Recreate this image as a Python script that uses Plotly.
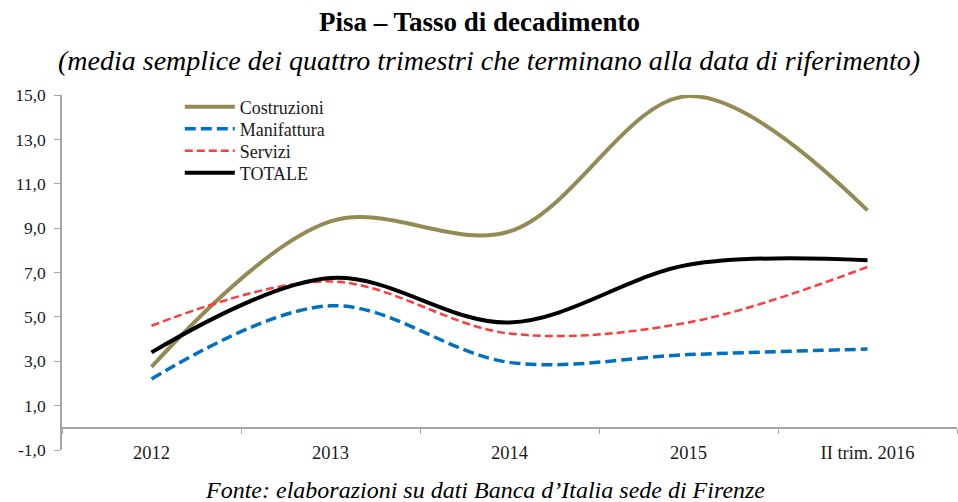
import plotly.graph_objects as go

categories = ["2012", "2013", "2014", "2015", "II trim. 2016"]
costruzioni = [2.75, 9.3, 8.85, 14.95, 9.8]
manifattura = [2.2, 5.5, 2.95, 3.3, 3.55]
servizi = [4.6, 6.6, 4.25, 4.75, 7.25]
totale = [3.4, 6.75, 4.75, 7.35, 7.55]

ytick_vals = [-1, 1, 3, 5, 7, 9, 11, 13, 15]
ytick_text = ["-1,0", "1,0", "3,0", "5,0", "7,0", "9,0", "11,0", "13,0", "15,0"]

FONT = "Liberation Serif, Times New Roman, serif"
TXT = "#1a1a1a"

fig = go.Figure()
series = [
    ("Costruzioni", costruzioni, "#948A54", 4, "solid", "legend", 0.966),
    ("Manifattura", manifattura, "#0070C0", 3.5, "11px,5px", "legend2", 0.904),
    ("Servizi", servizi, "#FF3B3B", 2.5, "8px,4px", "legend3", 0.842),
    ("TOTALE", totale, "#000000", 4, "solid", "legend4", 0.780),
]
legends = {}
for name, vals, color, w, dash, lg, ly in series:
    fig.add_trace(go.Scatter(
        x=categories, y=vals, name=name, mode="lines", legend=lg,
        line=dict(color=color, width=w, dash=dash, shape="spline", smoothing=1.0),
    ))
    legends[lg] = dict(
        x=0.1316, y=ly, xanchor="left", yanchor="middle",
        bgcolor="rgba(0,0,0,0)", font=dict(family=FONT, size=18, color=TXT),
        itemwidth=50, borderwidth=0,
    )

fig.update_layout(
    width=958, height=502,
    margin=dict(l=62, r=1, t=95, b=52),
    paper_bgcolor="white", plot_bgcolor="white",
    separators=", ",
    font=dict(family=FONT, size=18, color=TXT),
    showlegend=True,
    xaxis=dict(
        type="category", anchor="free", position=1/16,
        showline=True, linecolor="#a6a6a6", linewidth=1.5,
        ticks="outside", ticklen=5, tickcolor="#a6a6a6", tickson="boundaries",
        showgrid=False, zeroline=False, ticklabelstandoff=8,
        range=[-0.5, 4.5],
        tickfont=dict(family=FONT, size=18.5, color=TXT),
    ),
    yaxis=dict(
        range=[-1, 15], tickvals=ytick_vals, ticktext=ytick_text,
        showline=True, linecolor="#a6a6a6", linewidth=1.5,
        ticks="outside", ticklen=6, tickcolor="#a6a6a6",
        showgrid=False, zeroline=False, ticklabelstandoff=5,
        tickfont=dict(family=FONT, size=17.5, color=TXT),
    ),
    annotations=[
        dict(text="<b>Pisa – Tasso di decadimento</b>", xref="paper", yref="paper",
             x=0.467, y=1, yshift=73, xanchor="center", yanchor="middle", showarrow=False,
             font=dict(family=FONT, size=27, color="#000000")),
        dict(text="<i>(media semplice dei quattro trimestri che terminano alla data di riferimento)</i>",
             xref="paper", yref="paper", x=0.477, y=1, yshift=35, xanchor="center", yanchor="middle",
             showarrow=False, font=dict(family=FONT, size=28, color="#000000")),
        dict(text="<i>Fonte: elaborazioni su dati Banca d’Italia sede di Firenze</i>",
             xref="paper", yref="paper", x=0.4726, y=0, yshift=-40, xanchor="center", yanchor="middle",
             showarrow=False, font=dict(family=FONT, size=24, color="#000000")),
    ],
)
fig.update_layout(**legends)

fig.write_html(
    "out.html",
    config={"displayModeBar": False},
    post_script="document.body.style.margin='0';document.body.style.overflow='hidden';",
)
